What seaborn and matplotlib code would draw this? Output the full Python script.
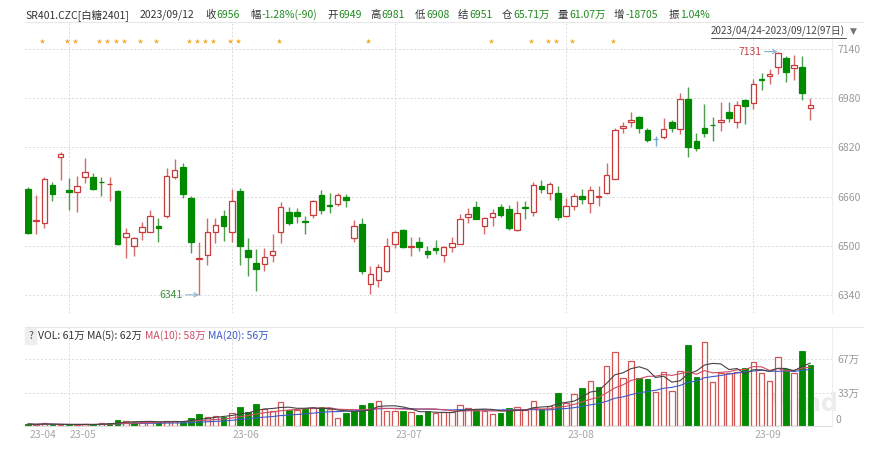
import numpy as np
import pandas as pd
import matplotlib
matplotlib.use("Agg")
import matplotlib.pyplot as plt
import seaborn as sns
from matplotlib.transforms import blended_transform_factory
from matplotlib.lines import Line2D
from matplotlib.patches import Rectangle

# ---------------- data ----------------
opens = [6685, 6582, 6575, 6698, 6788, 6681, 6675, 6723, 6724, 6708,
         6700, 6678, 6528, 6501, 6546, 6545, 6566, 6597, 6723, 6756,
         6657, 6458, 6470, 6545, 6598, 6545, 6677, 6487, 6445, 6440,
         6471, 6546, 6609, 6611, 6581, 6600, 6666, 6634, 6637, 6660,
         6525, 6572, 6375, 6389, 6420, 6505, 6551, 6497, 6514, 6482,
         6492, 6471, 6496, 6507, 6595, 6627, 6566, 6595, 6625, 6619,
         6551, 6627, 6610, 6693, 6671, 6673, 6596, 6631, 6661, 6638,
         6658, 6671, 6718, 6882, 6902, 6917, 6877, 6846, 6852, 6901,
         6879, 6976, 6839, 6883, 6893, 6902, 6935, 6901, 6973, 6964,
         7043, 7051, 7081, 7111, 7078, 7080, 6949]
highs = [6690, 6666, 6724, 6709, 6806, 6720, 6728, 6785, 6736, 6723,
         6723, 6680, 6559, 6530, 6576, 6615, 6589, 6752, 6781, 6769,
         6661, 6511, 6590, 6589, 6617, 6686, 6688, 6525, 6491, 6494,
         6540, 6642, 6626, 6623, 6597, 6650, 6681, 6672, 6671, 6667,
         6583, 6590, 6434, 6442, 6525, 6548, 6554, 6528, 6530, 6498,
         6518, 6499, 6528, 6603, 6624, 6646, 6595, 6619, 6637, 6633,
         6646, 6646, 6707, 6713, 6706, 6693, 6657, 6673, 6686, 6693,
         6695, 6768, 6882, 6902, 6934, 6921, 6882, 6858, 6916, 6910,
         6996, 7015, 6865, 6960, 6920, 6968, 6966, 6969, 6977, 7041,
         7062, 7075, 7131, 7116, 7120, 7116, 6981]
lows = [6538, 6540, 6559, 6645, 6715, 6616, 6611, 6703, 6682, 6661,
        6645, 6502, 6459, 6466, 6519, 6545, 6513, 6591, 6717, 6656,
        6476, 6341, 6439, 6509, 6515, 6514, 6439, 6401, 6355, 6420,
        6446, 6509, 6567, 6575, 6539, 6589, 6603, 6607, 6629, 6625,
        6514, 6408, 6343, 6368, 6415, 6492, 6494, 6466, 6484, 6461,
        6473, 6448, 6481, 6505, 6575, 6586, 6538, 6564, 6593, 6553,
        6548, 6586, 6597, 6673, 6649, 6584, 6594, 6615, 6635, 6606,
        6630, 6668, 6717, 6866, 6885, 6866, 6836, 6825, 6846, 6870,
        6862, 6790, 6808, 6854, 6842, 6873, 6901, 6884, 6895, 6944,
        7006, 7025, 7059, 7033, 7040, 6975, 6908]
closes = [6541, 6585, 6717, 6669, 6798, 6675, 6695, 6740, 6686, 6706,
          6702, 6507, 6542, 6525, 6562, 6598, 6559, 6728, 6745, 6667,
          6514, 6461, 6546, 6569, 6566, 6646, 6501, 6464, 6424, 6463,
          6482, 6626, 6574, 6596, 6579, 6646, 6616, 6631, 6666, 6649,
          6566, 6419, 6408, 6433, 6498, 6546, 6496, 6500, 6495, 6474,
          6486, 6497, 6509, 6586, 6604, 6588, 6591, 6608, 6600, 6557,
          6608, 6623, 6699, 6684, 6701, 6594, 6628, 6662, 6652, 6680,
          6661, 6730, 6877, 6890, 6910, 6883, 6843, 6846, 6880, 6883,
          6976, 6821, 6819, 6867, 6891, 6909, 6914, 6959, 6953, 7025,
          7040, 7058, 7125, 7065, 7087, 6995, 6956]
# volume, unit: 万手
volumes = [2.0, 1.3, 2.7, 1.3, 1.0, 1.3, 1.3, 2.0, 1.3, 2.7,
           3.4, 5.7, 5.4, 4.0, 3.7, 4.4, 3.7, 5.4, 4.7, 4.0,
           8.4, 11.7, 9.0, 10.0, 8.7, 13.1, 19.4, 14.1, 21.8, 16.8,
           15.4, 24.5, 15.7, 16.1, 17.1, 18.1, 19.4, 17.4, 8.0, 12.7,
           15.1, 21.1, 23.5, 25.5, 15.4, 15.4, 15.4, 14.1, 11.4, 14.7,
           13.4, 14.0, 14.0, 20.8, 18.4, 16.1, 15.4, 12.1, 13.4, 17.8,
           18.8, 16.1, 25.5, 16.8, 20.1, 32.8, 22.8, 31.8, 37.9, 44.6,
           38.9, 60.3, 74.4, 47.9, 65.3, 48.2, 46.6, 34.5, 54.3, 35.5,
           55.3, 81.1, 48.6, 84.4, 43.6, 52.9, 52.9, 53.6, 58.0, 64.0,
           52.9, 44.6, 69.0, 57.0, 52.9, 74.7, 61.07]

month_idx = [0, 5, 25, 45, 66, 89]
month_labels = ["23-04", "23-05", "23-06", "23-07", "23-08", "23-09"]
week_idx = [7, 12, 17, 22, 27, 32, 37, 40, 50, 55, 60, 65, 70, 75, 80, 85, 90, 95]
star_idx = [2, 5, 6, 9, 10, 11, 12, 14, 16, 20, 21, 22, 23, 25, 26, 31, 42,
            57, 62, 64, 65, 67, 72]
price_ticks = [6340, 6500, 6660, 6820, 6980, 7140]
vol_ticks = [33.5, 67.0]
vol_tick_labels = ["33万", "67万"]

header = [("SR401.CZC[白糖2401]", None), ("2023/09/12", None),
          ("收", "6956"), ("幅", "-1.28%(-90)"), ("开", "6949"), ("高", "6981"),
          ("低", "6908"), ("结", "6951"), ("仓", "65.71万"), ("量", "61.07万"),
          ("增", "-18705"), ("振", "1.04%")]
header_x = [25, 140, 205, 250, 327, 370, 415, 458, 502, 558, 614, 669]

# ---------------- style ----------------
sns.set_theme(style="white")
plt.rcParams["font.family"] = ["Noto Sans CJK SC", "DejaVu Sans"]
plt.rcParams["axes.unicode_minus"] = False

RED = "#c93b3b"
RED_WICK = "#d46a6a"
GREEN = "#008a00"
GREEN_WICK = "#4c9e4c"
BLUE = "#7ba6c8"
GRID = "#dadada"
TXT = "#333333"
VAL_GREEN = "#1f8a1f"

W, H = 884, 455
fig = plt.figure(figsize=(W / 100, H / 100), dpi=100)
fig.patch.set_facecolor("white")


def fx(px):
    return px / W


def fy(py):
    return 1 - py / H


P_TOP, P_BOT = 22, 313
V_TOP, V_BOT = 327, 426
X_L, X_R = 25, 832

ax = fig.add_axes([fx(X_L), fy(P_BOT), (X_R - X_L) / W, (P_BOT - P_TOP) / H])
axv = fig.add_axes([fx(X_L), fy(V_BOT), (X_R - X_L) / W, (V_BOT - V_TOP) / H])
for a in (ax, axv):
    a.set_facecolor("none")
    for s in a.spines.values():
        s.set_visible(False)

n = len(closes)
idx = np.arange(n)
xlim = (-0.37, 98.65)

df = pd.DataFrame({"i": idx, "open": opens, "high": highs, "low": lows,
                   "close": closes, "vol": volumes})

# ---------------- price panel ----------------
ax.set_xlim(*xlim)
ax.set_ylim(6282, 7227)
for t in price_ticks:
    ax.axhline(t, color=GRID, lw=0.7, ls=(0, (2, 2)), zorder=0)
for m in month_idx[1:]:
    ax.axvline(m, color=GRID, lw=0.7, ls=(0, (2, 2)), zorder=0)

bw = 0.68
for _, r in df.iterrows():
    o, h, l, c, i = r["open"], r["high"], r["low"], r["close"], r["i"]
    if c > o:
        ec, fc, wc = RED, "white", RED_WICK
    elif c < o:
        ec, fc, wc = GREEN, GREEN, GREEN_WICK
    else:
        ec, fc, wc = BLUE, BLUE, BLUE
    ax.vlines(i, l, h, color=wc, lw=1.0, zorder=2)
    lo, hi = min(o, c), max(o, c)
    ax.bar(i, max(hi - lo, 0.5), bottom=lo, width=bw, color=fc, edgecolor=ec,
           linewidth=0.9, zorder=3)

ax.yaxis.tick_right()
ax.set_yticks(price_ticks)
ax.set_yticklabels([str(t) for t in price_ticks])
ax.tick_params(axis="y", length=0, pad=4, labelsize=7.5, labelcolor="#999999")
ax.set_xticks([])

trans = blended_transform_factory(ax.transData, ax.transAxes)
ax.scatter(np.array(star_idx) - 0.25, np.full(len(star_idx), 0.935), marker="*",
           s=16, color="#f2a51e", transform=trans, zorder=4, linewidths=0)

imax = int(np.argmax(highs))
imin = int(np.argmin(lows))
ax.annotate(str(highs[imax]), xy=(imax, highs[imax]), xytext=(-12, 0),
            textcoords="offset points", ha="right", va="center", fontsize=7.5,
            color="#c84444",
            arrowprops=dict(arrowstyle="->", color="#8ab4d0", lw=0.8,
                            shrinkA=0, shrinkB=0))
ax.annotate(str(lows[imin]), xy=(imin, lows[imin]), xytext=(-12, 0),
            textcoords="offset points", ha="right", va="center", fontsize=7.5,
            color="#3f8f3f",
            arrowprops=dict(arrowstyle="->", color="#8ab4d0", lw=0.8,
                            shrinkA=0, shrinkB=0))

# ---------------- volume panel ----------------
axv.set_xlim(*xlim)
axv.set_ylim(0, 99)
for t in vol_ticks:
    axv.axhline(t, color=GRID, lw=0.7, ls=(0, (2, 2)), zorder=0)
for m in month_idx[1:]:
    axv.axvline(m, color=GRID, lw=0.7, ls=(0, (2, 2)), zorder=0)

prev = np.r_[opens[0], closes[:-1]]
up = np.array(closes) > prev
for i in idx:
    if up[i]:
        axv.bar(i, volumes[i], width=bw, color="white", edgecolor="#d05656",
                linewidth=0.9, zorder=2)
    else:
        axv.bar(i, volumes[i], width=bw, color=GREEN, edgecolor=GREEN,
                linewidth=0.6, zorder=2)

vs = pd.Series(volumes)
df["ma5"] = vs.rolling(5, min_periods=1).mean()
df["ma10"] = vs.rolling(10, min_periods=1).mean()
df["ma20"] = vs.rolling(20, min_periods=1).mean()
sns.lineplot(data=df, x="i", y="ma20", ax=axv, color="#3b5bc9", lw=0.8, zorder=3)
sns.lineplot(data=df, x="i", y="ma10", ax=axv, color="#cf4b66", lw=0.8, zorder=3)
sns.lineplot(data=df, x="i", y="ma5", ax=axv, color="#444444", lw=0.8, zorder=3)
axv.set_xlabel("")
axv.set_ylabel("")

axv.spines["bottom"].set_visible(True)
axv.spines["bottom"].set_color("#dddddd")
axv.spines["bottom"].set_linewidth(0.8)
axv.yaxis.tick_right()
axv.set_yticks(vol_ticks)
axv.set_yticklabels(vol_tick_labels)
axv.tick_params(axis="y", length=0, pad=4, labelsize=7.5, labelcolor="#999999")
axv.set_xticks(week_idx, minor=True)
axv.set_xticks([])
axv.tick_params(axis="x", which="minor", length=4, color="#dddddd", width=0.8,
                direction="out")
axv.text(1.004, 0.015, "0", transform=axv.transAxes, ha="left", va="bottom",
         fontsize=7.5, color="#999999")
vtrans = blended_transform_factory(axv.transData, axv.transAxes)
for m, lab in zip(month_idx, month_labels):
    axv.text(m + 0.15, -0.09, lab, transform=vtrans, ha="left", va="center",
             fontsize=7.5, color="#a8a8a8")

# ---------------- frame lines ----------------
fig.add_artist(Line2D([fx(25), fx(863)], [fy(22), fy(22)], color="#e8e8e8", lw=0.8))
fig.add_artist(Line2D([fx(25), fx(863)], [fy(V_TOP), fy(V_TOP)], color="#e8e8e8", lw=0.8))
fig.add_artist(Line2D([fx(X_R), fx(X_R)], [fy(P_TOP), fy(P_BOT)], color="#eeeeee", lw=0.8))
fig.add_artist(Line2D([fx(X_R), fx(X_R)], [fy(V_TOP), fy(V_BOT)], color="#eeeeee", lw=0.8))

# ---------------- header ----------------
for (lab, val), x in zip(header, header_x):
    fig.text(fx(x), fy(15), lab, fontsize=7.5, color=TXT, va="center", ha="left")
    if val is not None:
        fig.text(fx(x + 11.5), fy(15), val, fontsize=7.5, color=VAL_GREEN,
                 va="center", ha="left")

fig.text(fx(711), fy(31), "2023/04/24-2023/09/12(97日)", fontsize=7.1,
         color="#444444", va="center", ha="left")
fig.add_artist(Line2D([fx(711), fx(846)], [fy(37.5), fy(37.5)], color="#555555", lw=0.7))
fig.text(fx(850), fy(31), "▼", fontsize=6.5, color="#777777", va="center", ha="left",
         family=["DejaVu Sans"])

# volume legend
fig.add_artist(Rectangle((fx(25), fy(344)), 11 / W, 16 / H, transform=fig.transFigure,
                         color="#eeeeee", zorder=1))
fig.text(fx(30.5), fy(336), "?", fontsize=7.5, color="#555555", va="center", ha="center")
fig.text(fx(38), fy(336), "VOL: 61万 MA(5): 62万", fontsize=7.5, color=TXT,
         va="center", ha="left")
fig.text(fx(145), fy(336), "MA(10): 58万", fontsize=7.5, color="#cf4b66",
         va="center", ha="left")
fig.text(fx(208), fy(336), "MA(20): 56万", fontsize=7.5, color="#3b5bc9",
         va="center", ha="left")

# watermark (kept clear of the axis labels)
fig.text(fx(770), fy(404), "Wind", fontsize=17, fontweight="bold", color="#ececec",
         va="center", ha="left", zorder=-1, family=["DejaVu Sans"])

fig.savefig("out.png", dpi=100)
